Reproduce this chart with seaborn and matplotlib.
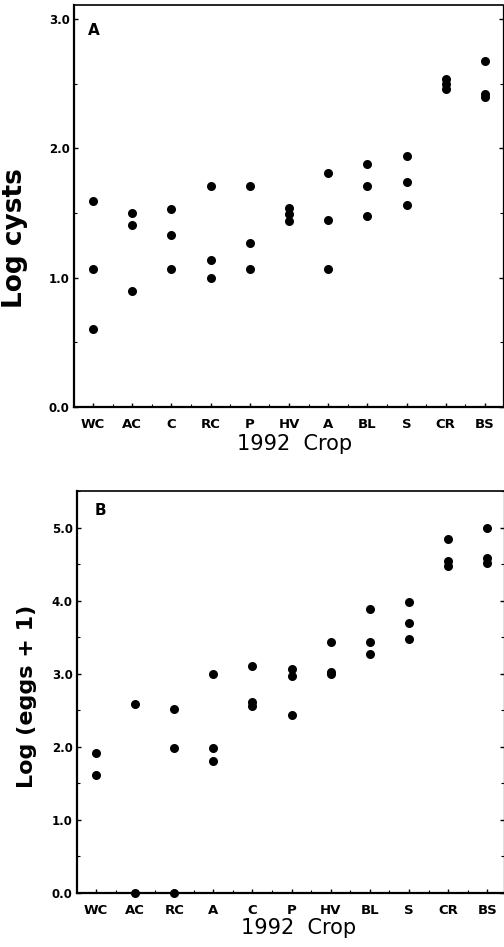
import numpy as np
import pandas as pd
import seaborn as sns
import matplotlib.pyplot as plt
from matplotlib.ticker import MultipleLocator, FixedLocator

sns.set_style('ticks')
plt.rcParams['font.family'] = ['DejaVu Sans']
plt.rcParams['text.color'] = 'black'
plt.rcParams['axes.labelcolor'] = 'black'
plt.rcParams['xtick.color'] = 'black'
plt.rcParams['ytick.color'] = 'black'

# panel A: log cysts by 1992 crop
crops_a = ['WC', 'AC', 'C', 'RC', 'P', 'HV', 'A', 'BL', 'S', 'CR', 'BS']
cysts = [
    [1.59, 1.07, 0.60],
    [1.50, 1.41, 0.90],
    [1.53, 1.33, 1.07],
    [1.71, 1.14, 1.00],
    [1.71, 1.27, 1.07],
    [1.54, 1.49, 1.44],
    [1.81, 1.45, 1.07],
    [1.88, 1.71, 1.48],
    [1.94, 1.74, 1.56],
    [2.54, 2.50, 2.46],
    [2.68, 2.42, 2.40],
]

# panel B: log (eggs + 1) by 1992 crop
crops_b = ['WC', 'AC', 'RC', 'A', 'C', 'P', 'HV', 'BL', 'S', 'CR', 'BS']
eggs = [
    [1.92, 1.62],
    [2.59, 0.0],
    [2.52, 1.98, 0.0],
    [3.00, 1.98, 1.81],
    [3.10, 2.62, 2.56],
    [3.06, 2.97, 2.44],
    [3.43, 3.03, 2.99],
    [3.88, 3.43, 3.27],
    [3.98, 3.69, 3.47],
    [4.85, 4.54, 4.47],
    [5.00, 4.58, 4.52],
]


def long_df(crops, values, name):
    rows = [(c, v) for c, vals in zip(crops, values) for v in vals]
    return pd.DataFrame(rows, columns=['crop', name])


def style_axis(ax, ymax, xlim):
    ax.set_ylim(0, ymax)
    ax.set_xlim(*xlim)
    ax.yaxis.set_major_locator(MultipleLocator(1.0))
    ax.yaxis.set_minor_locator(MultipleLocator(0.5))
    ax.xaxis.set_minor_locator(FixedLocator(np.arange(-0.5, 11, 1.0)))
    ax.yaxis.set_major_formatter(plt.FuncFormatter(lambda v, p: f'{v:.1f}'))
    ax.tick_params(which='both', direction='in', left=True, right=True,
                   bottom=True, top=False, color='black')
    ax.tick_params(which='major', length=3, width=1)
    ax.tick_params(which='minor', length=2, width=0.8)
    ax.tick_params(axis='x', labelsize=9.5, pad=8)
    ax.tick_params(axis='y', labelsize=8.5, pad=3)
    for lab in ax.get_xticklabels() + ax.get_yticklabels():
        lab.set_fontweight('bold')
    for side, lw in [('left', 1.6), ('bottom', 1.6), ('top', 1.2), ('right', 0.9)]:
        ax.spines[side].set_visible(True)
        ax.spines[side].set_linewidth(lw)
        ax.spines[side].set_color('black')


fig = plt.figure(figsize=(5.04, 9.47), dpi=100)
ax_a = fig.add_axes([74 / 504, 1 - 407 / 947, (503 - 74) / 504, (407 - 5) / 947])
ax_b = fig.add_axes([77 / 504, 1 - 893 / 947, (504 - 77) / 504, (893 - 491) / 947])

df_a = long_df(crops_a, cysts, 'cysts')
df_b = long_df(crops_b, eggs, 'eggs')

sns.stripplot(data=df_a, x='crop', y='cysts', order=crops_a, jitter=False,
              color='black', size=6.5, linewidth=0, ax=ax_a, clip_on=False, zorder=5)
sns.stripplot(data=df_b, x='crop', y='eggs', order=crops_b, jitter=False,
              color='black', size=6.5, linewidth=0, ax=ax_b, clip_on=False, zorder=5)

style_axis(ax_a, 3.11, (-0.485, 10.46))
style_axis(ax_b, 5.5, (-0.486, 10.43))

ax_a.set_ylabel('Log cysts', fontsize=19, fontweight='bold')
ax_a.yaxis.set_label_coords(-0.107, 0.42)
ax_a.set_xlabel('1992  Crop', fontsize=15)
ax_a.xaxis.set_label_coords(0.515, -0.068)

ax_b.set_ylabel('Log (eggs + 1)', fontsize=16, fontweight='bold')
ax_b.yaxis.set_label_coords(-0.094, 0.49)
ax_b.set_xlabel('1992  Crop', fontsize=15)
ax_b.xaxis.set_label_coords(0.519, -0.062)

ax_a.text(0.033, 0.955, 'A', transform=ax_a.transAxes, fontsize=11,
          fontweight='bold', va='top', ha='left')
ax_b.text(0.042, 0.97, 'B', transform=ax_b.transAxes, fontsize=11,
          fontweight='bold', va='top', ha='left')

fig.savefig('out.png', dpi=100)
